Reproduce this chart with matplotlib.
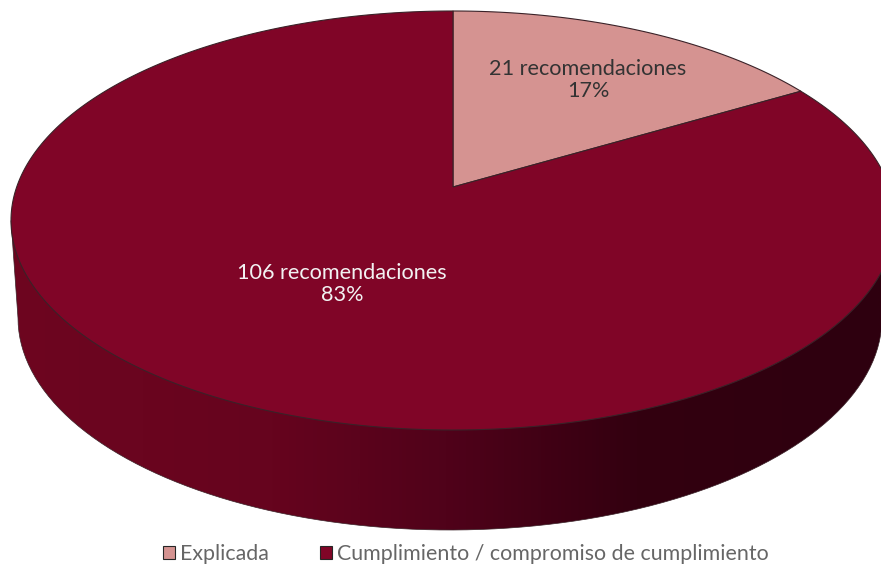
import numpy as np
import matplotlib
matplotlib.use("Agg")
import matplotlib.pyplot as plt
from matplotlib.patches import PathPatch, Patch
from matplotlib.path import Path
from matplotlib.colors import LinearSegmentedColormap

# === Datos ===
categorias = ["Explicada", "Cumplimiento / compromiso de cumplimiento"]
recomendaciones = [21, 106]
etiquetas = ["21 recomendaciones\n17%", "106 recomendaciones\n83%"]
colores = ["#D59391", "#800527"]
colores_texto = ["#333333", "#F2F2F2"]

plt.rcParams['font.family'] = ['Lato', 'DejaVu Sans']

fig = plt.figure(figsize=(8.81, 5.65), dpi=100)
ax = fig.add_axes([0, 0, 1, 1])
ax.set_xlim(0, 881)
ax.set_ylim(565, 0)
ax.axis('off')

# === Geometria del disco (perspectiva) ===
cx, cy_sup, cy_centro, cy_inf = 453.0, 11.0, 187.0, 430.0
c = (2 * cy_centro - cy_sup - cy_inf) / (cy_sup - cy_inf)
a = cy_sup * (1 + c) - cy_centro
radio = 442.0 * np.sqrt(1 - c ** 2)

def proyectar(theta):
    x = np.sin(theta)
    y = np.cos(theta)
    d = 1 + c * y
    return cx + radio * x / d, (a * y + cy_centro) / d

# === Lateral con degradado ===
t = np.linspace(-np.pi / 2, np.pi / 2, 200)
lat_x = 450 + 432 * np.sin(t)
lat_y = 318 + 212 * np.cos(t)
sup_x, sup_y = 453 + 442 * np.sin(t), 220.5 + 209.5 * np.cos(t)
borde = np.vstack([[sup_x[0], sup_y[0]], np.column_stack([lat_x, lat_y]),
                   [sup_x[-1], sup_y[-1]]])
lateral = PathPatch(Path(borde), facecolor='none', edgecolor='#3a2228', lw=0.5, zorder=2)
ax.add_patch(lateral)
cmap = LinearSegmentedColormap.from_list('lateral', [
    (0.0, '#6E0620'), (0.3, '#66041E'), (0.5, '#50021A'), (0.72, '#330010'), (1.0, '#2E000F')])
grad = ax.imshow(np.linspace(0, 1, 512).reshape(1, -1), extent=[11, 881, 565, 0],
                 cmap=cmap, aspect='auto', zorder=1)
grad.set_clip_path(lateral)

# === Sectores ===
fracciones = np.array(recomendaciones) / sum(recomendaciones)
inicio = 0.0
for frac, color in zip(fracciones, colores):
    th = np.linspace(inicio, inicio + frac * 2 * np.pi, 300)
    x, y = proyectar(th)
    verts = np.vstack([[cx, cy_centro], np.column_stack([x, y]), [cx, cy_centro]])
    ax.add_patch(PathPatch(Path(verts), facecolor=color, edgecolor='#3a2228', lw=0.8, zorder=3))
    inicio += frac * 2 * np.pi

# === Etiquetas ===
posiciones = [(588, 80), (342, 284)]
for (px, py), txt, col in zip(posiciones, etiquetas, colores_texto):
    ax.text(px, py, txt, ha='center', va='center', color=col, fontsize=15.6,
            linespacing=1.15, zorder=4)

# === Leyenda ===
handles = [Patch(facecolor=col, edgecolor='#262626', lw=0.8) for col in colores]
ax.legend(handles, categorias, loc='center', bbox_to_anchor=(466 / 881, 1 - 554 / 565),
          ncol=2, frameon=False, labelcolor='#666666', handlelength=0.55,
          handleheight=0.55, handletextpad=0.25, columnspacing=2.41,
          prop={'size': 15.4})

fig.savefig('out.png', dpi=100)
